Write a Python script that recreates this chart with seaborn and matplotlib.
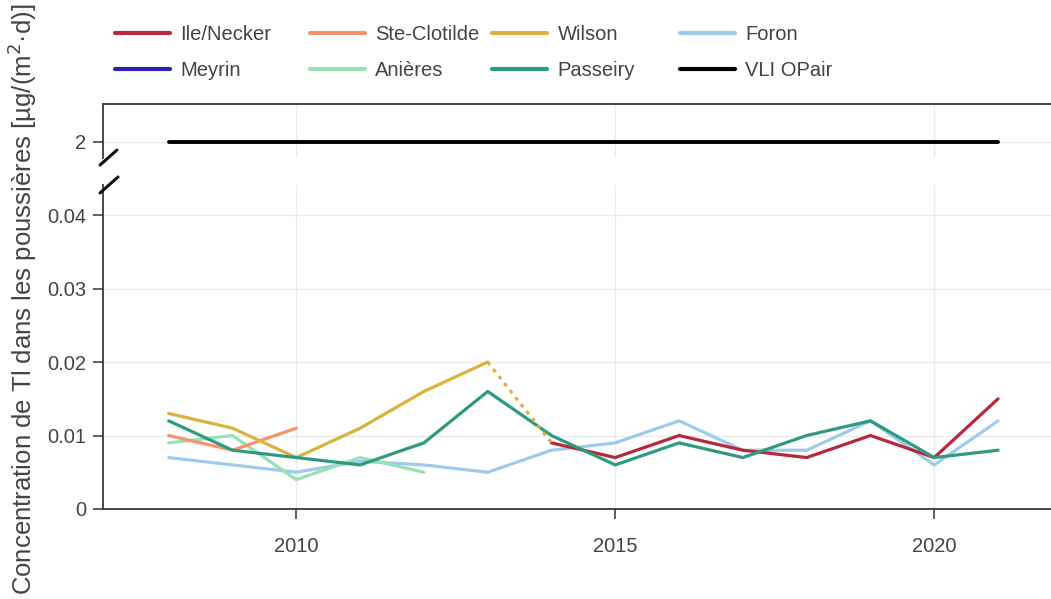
import numpy as np
import pandas as pd
import matplotlib
matplotlib.use("Agg")
import matplotlib.pyplot as plt
import seaborn as sns

# ---------------- data ----------------
years_all = [2008, 2009, 2010, 2011, 2012, 2013, 2014, 2015, 2016, 2017, 2018, 2019, 2020, 2021]

ile_years = [2014, 2015, 2016, 2017, 2018, 2019, 2020, 2021]
ile_vals = [0.009, 0.007, 0.010, 0.008, 0.007, 0.010, 0.007, 0.015]

stc_years = [2008, 2009, 2010]
stc_vals = [0.010, 0.008, 0.011]

wil_years = [2008, 2009, 2010, 2011, 2012, 2013]
wil_vals = [0.013, 0.011, 0.007, 0.011, 0.016, 0.020]
wil_gap_years = [2013, 2014]
wil_gap_vals = [0.020, 0.009]

for_years = years_all
for_vals = [0.007, 0.006, 0.005, 0.0065, 0.006, 0.005, 0.008, 0.009, 0.012, 0.008, 0.008, 0.012, 0.006, 0.012]

ani_years = [2008, 2009, 2010, 2011, 2012]
ani_vals = [0.009, 0.010, 0.004, 0.007, 0.005]

pas_years = years_all
pas_vals = [0.012, 0.008, 0.007, 0.006, 0.009, 0.016, 0.010, 0.006, 0.009, 0.007, 0.010, 0.012, 0.007, 0.008]

vli_years = [2008, 2021]
vli_vals = [2, 2]

sites = ["Ile/Necker", "Ste-Clotilde", "Wilson", "Foron", "Meyrin", "Anières", "Passeiry", "VLI OPair"]
colors = {
    "Ile/Necker": "#b8283d",
    "Ste-Clotilde": "#f5936c",
    "Wilson": "#d9b33c",
    "Foron": "#9fcbea",
    "Meyrin": "#2a22b8",
    "Anières": "#98e0b6",
    "Passeiry": "#2f9a7f",
    "VLI OPair": "#000000",
}

frames = []
for name, yrs, vals in [("Ile/Necker", ile_years, ile_vals), ("Ste-Clotilde", stc_years, stc_vals),
                        ("Wilson", wil_years, wil_vals), ("Foron", for_years, for_vals),
                        ("Anières", ani_years, ani_vals), ("Passeiry", pas_years, pas_vals)]:
    frames.append(pd.DataFrame({"year": yrs, "value": vals, "site": name}))
df = pd.concat(frames, ignore_index=True)
df_gap = pd.DataFrame({"year": wil_gap_years, "value": wil_gap_vals})
df_vli = pd.DataFrame({"year": vli_years, "value": vli_vals})

# ---------------- figure ----------------
sns.set_theme(style="white")
plt.rcParams["font.family"] = ["Liberation Sans", "DejaVu Sans"]

W, H = 1051, 599
fig = plt.figure(figsize=(W / 100, H / 100), dpi=100)

left = 103 / W
width = (W - 103 + 30) / W
ax_top = fig.add_axes([left, (H - 158) / H, width, 54 / H])
ax_bot = fig.add_axes([left, (H - 509) / H, width, 324 / H])

lw = 2.3
spine_col = "#3a3a3a"
grid_col = "#ebebeb"
tick_col = "#444444"
fs = 14.5

draw_order = ["Foron", "Anières", "Ste-Clotilde", "Wilson", "Ile/Necker", "Passeiry"]
for name in draw_order:
    sns.lineplot(data=df[df.site == name], x="year", y="value", color=colors[name],
                 linewidth=lw, ax=ax_bot, legend=False, label=name)
sns.lineplot(data=df_gap, x="year", y="value", color=colors["Wilson"], linewidth=lw,
             linestyle=(0, (1.2, 1.6)), ax=ax_bot, legend=False)
ax_bot.plot([], [], color=colors["Meyrin"], linewidth=lw, label="Meyrin")
sns.lineplot(data=df_vli, x="year", y="value", color=colors["VLI OPair"], linewidth=2.8,
             ax=ax_top, legend=False, label="VLI OPair")

xmin, xmax = 2006.97, 2022.3
for ax in (ax_top, ax_bot):
    ax.set_xlim(xmin, xmax)
    ax.set_xticks([2010, 2015, 2020])
    ax.grid(True, color=grid_col, linewidth=1.0)
    ax.set_axisbelow(True)
    ax.set_xlabel("")
    ax.set_ylabel("")
    ax.tick_params(axis="both", which="both", direction="out", length=7, width=1.2,
                   color=tick_col, labelcolor=tick_col, labelsize=fs, pad=5,
                   left=True, bottom=True)
    ax.set_facecolor("white")

ax_bot.tick_params(axis="x", pad=13)

ax_top.set_ylim(1.911, 2.211)
ax_top.set_yticks([2])
ax_top.set_yticklabels(["2"])
ax_top.tick_params(axis="x", bottom=False, labelbottom=False)
for s in ["right", "bottom"]:
    ax_top.spines[s].set_visible(False)
for s in ["top", "left"]:
    ax_top.spines[s].set_color(spine_col)
    ax_top.spines[s].set_linewidth(1.3)

ax_bot.set_ylim(0, 0.0441)
ax_bot.set_yticks([0, 0.01, 0.02, 0.03, 0.04])
ax_bot.set_yticklabels(["0", "0.01", "0.02", "0.03", "0.04"])
ax_bot.set_xticklabels(["2010", "2015", "2020"])
for s in ["right", "top"]:
    ax_bot.spines[s].set_visible(False)
for s in ["bottom", "left"]:
    ax_bot.spines[s].set_color(spine_col)
    ax_bot.spines[s].set_linewidth(1.3)

# break marks (in figure pixel coordinates)
def fig_line(x0, y0, x1, y1):
    fig.add_artist(plt.Line2D([x0 / W, x1 / W], [(H - y0) / H, (H - y1) / H],
                              color="#111111", linewidth=2.2, transform=fig.transFigure))

fig_line(100, 165, 117, 150)
fig_line(100, 193, 118, 177)

# y label
fig.text(22 / W, 0.50, "Concentration de Tl dans les poussières [µg/(m$^2$·d)]",
         rotation=90, ha="center", va="center", fontsize=18.5, color="#444444")

# legend: 4 columns placed individually
h_b, l_b = ax_bot.get_legend_handles_labels()
h_t, l_t = ax_top.get_legend_handles_labels()
hmap = dict(zip(l_b + l_t, h_b + h_t))
cols = [("Ile/Necker", "Meyrin"), ("Ste-Clotilde", "Anières"), ("Wilson", "Passeiry"), ("Foron", "VLI OPair")]
col_x = [115, 310, 492, 680]
for (a, b), cx in zip(cols, col_x):
    leg = fig.legend([hmap[a], hmap[b]], [a, b], loc="upper left",
                     bbox_to_anchor=(cx / W, (H - 25) / H), frameon=False, fontsize=fs,
                     handlelength=2.75, handletextpad=0.5, labelspacing=0.85,
                     borderpad=0, borderaxespad=0, labelcolor="#444444")
    for line in leg.get_lines():
        line.set_linewidth(3)

fig.savefig("out.png", dpi=100)
